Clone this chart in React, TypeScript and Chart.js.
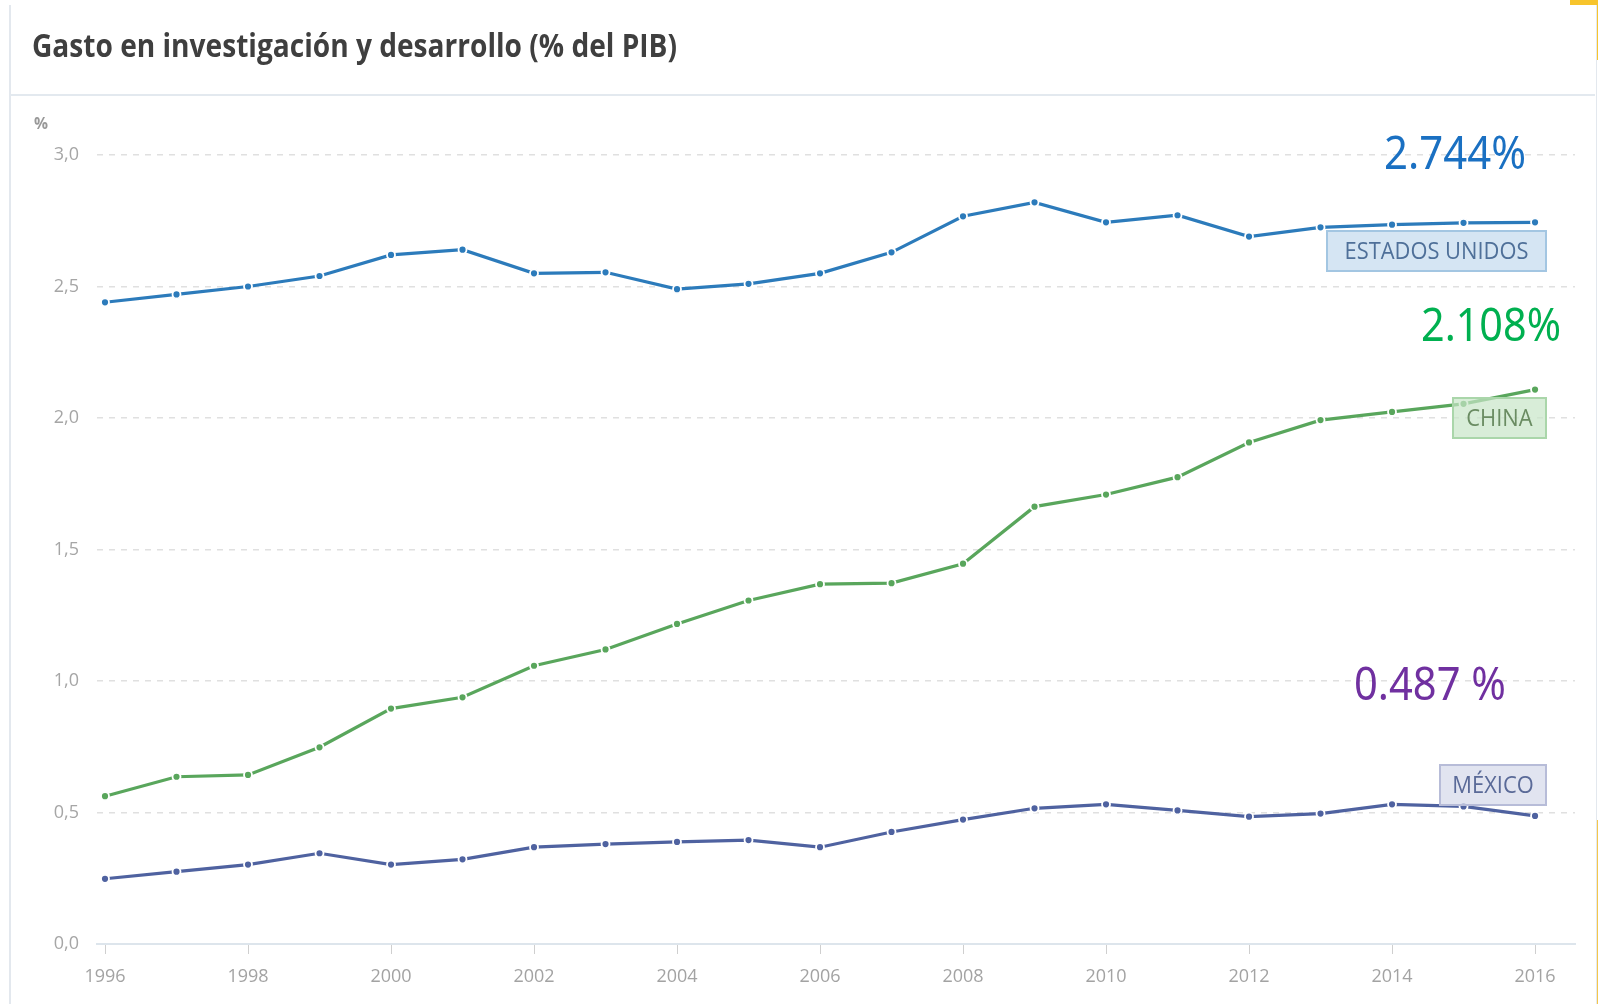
import React, { useEffect, useRef } from "react";
import { Chart, registerables } from "chart.js";

Chart.register(...registerables);

// ---- data ----
const years = [1996, 1997, 1998, 1999, 2000, 2001, 2002, 2003, 2004, 2005, 2006, 2007, 2008, 2009, 2010, 2011, 2012, 2013, 2014, 2015, 2016];
const usValues = [2.44, 2.47, 2.50, 2.54, 2.62, 2.64, 2.55, 2.554, 2.49, 2.51, 2.55, 2.63, 2.767, 2.82, 2.744, 2.771, 2.69, 2.725, 2.735, 2.742, 2.744];
const chinaValues = [0.562, 0.636, 0.643, 0.748, 0.895, 0.938, 1.058, 1.12, 1.217, 1.306, 1.368, 1.372, 1.446, 1.663, 1.709, 1.775, 1.907, 1.992, 2.023, 2.054, 2.108];
const mexicoValues = [0.248, 0.275, 0.302, 0.345, 0.302, 0.322, 0.368, 0.38, 0.388, 0.395, 0.368, 0.426, 0.473, 0.516, 0.531, 0.508, 0.484, 0.496, 0.531, 0.523, 0.487];
const xTickValues = [1996, 1998, 2000, 2002, 2004, 2006, 2008, 2010, 2012, 2014, 2016];
const yTickValues = [0, 0.5, 1.0, 1.5, 2.0, 2.5, 3.0];
const seriesNames = ["ESTADOS UNIDOS", "CHINA", "MÉXICO"];
const lastValueLabels = ["2.744%", "2.108%", "0.487 %"];
const chartTitle = "Gasto en investigación y desarrollo (% del PIB)";
const unitLabel = "%";

// ---- styles ----
const lineColors = ["#2c7bbb", "#59a65c", "#4f62a0"];
const boxFill = ["rgba(190,215,236,0.65)", "rgba(200,230,200,0.7)", "rgba(212,216,234,0.7)"];
const boxStroke = ["#a3c6e2", "#aad6aa", "#b7bcd8"];
const boxText = ["#4f7099", "#6a8c62", "#5a6a98"];
const bigColors = ["#1a70c2", "#00b050", "#7030a0"];

function drawFitted(ctx: CanvasRenderingContext2D, text: string, x: number, y: number, font: string, width: number, color: string) {
  ctx.save();
  ctx.font = font;
  const w0 = ctx.measureText(text).width;
  const sx = width / w0;
  ctx.translate(x, y);
  ctx.scale(sx, 1);
  ctx.fillStyle = color;
  ctx.textAlign = "left";
  ctx.textBaseline = "middle";
  ctx.fillText(text, 0, 0);
  ctx.restore();
}

const decorPlugin = {
  id: "decor",
  afterDatasetsDraw(chart: any) {
    const ctx: CanvasRenderingContext2D = chart.ctx;
    const right = chart.chartArea.right;
    // series name boxes
    ctx.save();
    const boxFont = "400 24px 'Open Sans'";
    ctx.font = boxFont;
    const sx = 184 / ctx.measureText(seriesNames[0]).width;
    const boxTops = [231, 398, 765];
    const boxWidths = [219, 93, 106];
    const boxH = 40;
    for (let i = 0; i < 3; i++) {
      ctx.font = boxFont;
      const tw = ctx.measureText(seriesNames[i]).width * sx;
      const bw = boxWidths[i];
      const bx = right - 29 - bw;
      const by = boxTops[i];
      ctx.fillStyle = boxFill[i];
      ctx.fillRect(bx, by, bw, boxH);
      ctx.strokeStyle = boxStroke[i];
      ctx.lineWidth = 2;
      ctx.strokeRect(bx, by, bw, boxH);
      ctx.save();
      ctx.translate(bx + (bw - tw) / 2, by + boxH / 2 + 1);
      ctx.scale(sx, 1);
      ctx.fillStyle = boxText[i];
      ctx.textAlign = "left";
      ctx.textBaseline = "middle";
      ctx.fillText(seriesNames[i], 0, 0);
      ctx.restore();
    }
    ctx.restore();
    // big value labels
    const bigFont = "400 46px 'Noto Sans'";
    drawFitted(ctx, lastValueLabels[0], 1384, 156, bigFont, 142, bigColors[0]);
    drawFitted(ctx, lastValueLabels[1], 1421, 328, bigFont, 140, bigColors[1]);
    drawFitted(ctx, lastValueLabels[2], 1354, 687, bigFont, 152, bigColors[2]);
  },
  afterDraw(chart: any) {
    const ctx: CanvasRenderingContext2D = chart.ctx;
    drawFitted(ctx, chartTitle, 32, 48, "700 33px 'Open Sans'", 645, "#3f3f3f");
    drawFitted(ctx, unitLabel, 34, 124, "700 16px 'Open Sans'", 14, "#999999");
  },
};

export default function App() {
  const ref = useRef<HTMLCanvasElement>(null);
  useEffect(() => {
    const mk = (vals: number[]) => vals.map((v, i) => ({ x: years[i], y: v }));
    const seriesValues = [usValues, chinaValues, mexicoValues];
    const chart = new Chart(ref.current as HTMLCanvasElement, {
      type: "line",
      data: {
        datasets: seriesValues.map((vals, i) => ({
          label: seriesNames[i],
          data: mk(vals),
          borderColor: lineColors[i],
          backgroundColor: lineColors[i],
          borderWidth: 3.2,
          pointRadius: 4,
          pointBorderWidth: 1.8,
          pointBorderColor: "#ffffff",
          pointBackgroundColor: lineColors[i],
          tension: 0,
          fill: false,
        })),
      },
      options: {
        responsive: false,
        devicePixelRatio: 1,
        animation: false,
        layout: { padding: { left: 0, top: 155, right: 23, bottom: 0 } },
        plugins: {
          legend: { display: false },
          title: { display: false },
          tooltip: { enabled: false },
        },
        scales: {
          x: {
            type: "linear",
            min: 1995.888,
            max: 2016.559,
            afterBuildTicks: (scale: any) => {
              scale.ticks = xTickValues.map((v) => ({ value: v }));
            },
            afterFit: (scale: any) => {
              scale.height = 60;
            },
            ticks: {
              callback: (v: any) => String(v),
              color: "#a3a3a3",
              font: { family: "'Open Sans'", size: 18 },
              padding: 12,
              maxRotation: 0,
              autoSkip: false,
            },
            grid: {
              drawOnChartArea: false,
              drawTicks: true,
              tickLength: 10,
              tickColor: "#cfcfcf",
              tickWidth: 1,
              color: "#cfcfcf",
            },
            border: { display: true, color: "#dde5ec", width: 2 },
          },
          y: {
            min: 0,
            max: 3,
            afterBuildTicks: (scale: any) => {
              scale.ticks = yTickValues.map((v) => ({ value: v }));
            },
            afterFit: (scale: any) => {
              scale.width = 97;
            },
            ticks: {
              callback: (v: any) => Number(v).toFixed(1).replace(".", ","),
              color: "#a6a6a6",
              font: { family: "'Open Sans'", size: 18 },
              padding: 18,
            },
            grid: {
              drawTicks: false,
              color: (c: any) => (c.tick && c.tick.value === 0 ? "rgba(0,0,0,0)" : "#e0e0e0"),
              lineWidth: 1.5,
            },
            border: { display: false, dash: [6, 6] },
          },
        },
      },
      plugins: [decorPlugin],
    } as any);
    return () => chart.destroy();
  }, []);

  return (
    <div style={{ position: "fixed", left: 0, top: 0, width: 1598, height: 1004, background: "#ffffff", overflow: "hidden" }}>
      <div style={{ position: "absolute", left: 1570, top: 0, width: 28, height: 5, background: "#f7c42c" }} />
      <div style={{ position: "absolute", left: 1595, top: 0, width: 3, height: 60, background: "#f7c42c" }} />
      <div style={{ position: "absolute", left: 1595, top: 820, width: 3, height: 184, background: "#f4c64a" }} />
      <div style={{ position: "absolute", left: 9, top: 5, width: 1585, height: 1010, borderLeft: "2px solid #e3e8ee", borderRight: "1px solid #e3e8ee", background: "#ffffff" }} />
      <div style={{ position: "absolute", left: 10, top: 94, width: 1585, height: 2, background: "#e3e9ef" }} />
      <canvas ref={ref} width={1598} height={1004} style={{ position: "absolute", left: 0, top: 0, width: 1598, height: 1004 }} />
    </div>
  );
}
